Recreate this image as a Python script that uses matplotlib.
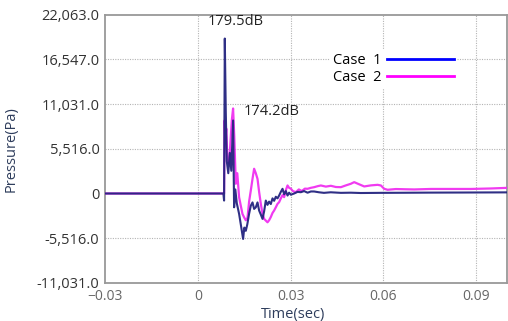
import matplotlib
matplotlib.use("Agg")
import matplotlib.pyplot as plt
from matplotlib.lines import Line2D
from matplotlib.ticker import FixedLocator

# ---- data ----
t1 = [-0.03, 0.00828, 0.00851, 0.00874, 0.00906, 0.00938, 0.00987, 0.01036, 0.01084,
      0.01142, 0.01175, 0.01214, 0.01262, 0.01336, 0.01391, 0.01466, 0.01505, 0.01553,
      0.01602, 0.01660, 0.01715, 0.01770, 0.01822, 0.01877, 0.01932, 0.01984, 0.02039,
      0.02094, 0.02146, 0.02200, 0.02255, 0.02307, 0.02362, 0.02417, 0.02469, 0.02524,
      0.02579, 0.02631, 0.02686, 0.02741, 0.02793, 0.02848, 0.02903, 0.02954, 0.03009,
      0.03116, 0.03226, 0.03333, 0.0344, 0.0355, 0.0366, 0.0376, 0.0392, 0.0408,
      0.043, 0.0463, 0.0495, 0.0527, 0.0592, 0.0657, 0.0754, 0.0851, 0.1003]
p1 = [0, 0, -870, 19100, 10000, 4000, 2500, 5000, 2800,
      9000, -1700, 500, -1200, -2500, -3800, -5600, -4200, -4600,
      -3800, -2500, -1500, -1100, -1900, -1700, -1100, -2100, -2600,
      -3130, -2200, -870, -1400, -1000, -1300, -600, -900, -400,
      -600, -250, 200, 580, -100, 300, -250, 100, -150,
      0, 200, 160, 300, 100, 250, 250, 150, 80,
      150, 80, 100, 60, 80, 90, 110, 120, 140]

t2 = [-0.03, 0.00851, 0.00867, 0.0089, 0.00922, 0.00955, 0.01013, 0.01052, 0.011,
      0.01142, 0.01181, 0.0123, 0.01278, 0.01336, 0.01391, 0.01446, 0.01498, 0.01553,
      0.01608, 0.0166, 0.01715, 0.0177, 0.01822, 0.01877, 0.01932, 0.01984, 0.02039,
      0.02094, 0.02146, 0.022, 0.02255, 0.02307, 0.02362, 0.02417, 0.02469, 0.02524,
      0.02579, 0.02631, 0.02686, 0.02741, 0.02793, 0.02848, 0.02903, 0.02954, 0.03009,
      0.03074, 0.03171, 0.03268, 0.03365, 0.03463, 0.0355, 0.03657, 0.03764, 0.03874,
      0.0398, 0.04142, 0.04304, 0.04466, 0.04628, 0.0479, 0.04951, 0.05058, 0.0521,
      0.05383, 0.05598, 0.05815, 0.05922, 0.06029, 0.06139, 0.06407, 0.06731, 0.07,
      0.0754, 0.0819, 0.0883, 0.0948, 0.1003]
p2 = [0, 0, 9000, 6500, 8000, 4500, 3670, 6000, 9000,
      10480, 7000, 1200, 2500, -450, -1500, -2520, -2930, -3300,
      -3000, -1000, 370, 1800, 3050, 2500, 1800, 200, -1280,
      -2500, -3130, -3340, -3550, -3300, -2900, -2400, -2100, -1700,
      -1280, -1070, -600, -200, -450, 400, 990, 700, 600,
      300, 160, 500, 300, 600, 580, 700, 780, 900,
      990, 850, 950, 800, 780, 1000, 1200, 1400, 1150,
      870, 1000, 1070, 990, 580, 460, 550, 520, 500,
      560, 560, 560, 620, 700]

yticks = [-11031.0, -5516.0, 0, 5516.0, 11031.0, 16547.0, 22063.0]
ytick_labels = ["-11,031.0", "-5,516.0", "0", "5,516.0", "11,031.0", "16,547.0", "22,063.0"]
xticks = [-0.03, 0, 0.03, 0.06, 0.09]
xtick_labels = ["\u22120.03", "0", "0.03", "0.06", "0.09"]
peak_labels = ["179.5dB", "174.2dB"]

plt.rcParams["font.family"] = ["Open Sans", "DejaVu Sans"]

fig = plt.figure(figsize=(5.08, 3.21), dpi=100)
ax = fig.add_axes([105 / 508, 1 - 283 / 321, 402 / 508, 268.5 / 321])

ax.plot(t2, p2, color="#f030f0", linewidth=1.6, alpha=0.95, zorder=3)
ax.plot(t1, p1, color="#24247f", linewidth=1.5, alpha=0.95, zorder=4)

ax.set_xlim(-0.03, 0.1)
ax.set_ylim(-11031.0, 22063.0)
ax.yaxis.set_major_locator(FixedLocator(yticks))
ax.set_yticklabels(ytick_labels, fontsize=10.5, color="#333333")
ax.xaxis.set_major_locator(FixedLocator(xticks))
ax.set_xticklabels(xtick_labels, fontsize=10, color="#666666")
ax.tick_params(length=0, pad=4)

# dotted grid, skip the lines that sit on the frame
for x in xticks[1:]:
    ax.axvline(x, color="#b4b4b4", linestyle=(0, (1, 1.2)), linewidth=0.8, zorder=1)
for y in yticks:
    if y not in (yticks[0], yticks[-1], 0):
        ax.axhline(y, color="#b4b4b4", linestyle=(0, (1, 1.2)), linewidth=0.8, zorder=1)

for s in ax.spines.values():
    s.set_color("#999999")
    s.set_linewidth(1.3)

ax.set_ylabel("Pressure(Pa)", fontsize=10.5, color="#2e3d5c")
ax.yaxis.set_label_coords(-0.215, 0.5)
ax.set_xlabel("Time(sec)", fontsize=10.5, color="#2e3d5c")
ax.xaxis.set_label_coords(0.468, -0.09)

# peak annotations
i1 = p1.index(max(p1))
i2 = p2.index(max(p2))
ax.annotate(peak_labels[0], (t1[i1], p1[i1]), xytext=(11, 17), textcoords="offset pixels",
            ha="center", va="center", fontsize=10.5, color="#222222")
ax.annotate(peak_labels[1], (t2[i2], p2[i2]), xytext=(39, -3), textcoords="offset pixels",
            ha="center", va="center", fontsize=10.5, color="#222222")

handles = [Line2D([], [], color="#0000ff", linewidth=2),
           Line2D([], [], color="#ff00ff", linewidth=2)]
leg = ax.legend(handles, ["Case  1", "Case  2"], loc="upper left",
                bbox_to_anchor=(225 / 402, 1 - 36 / 268.5), markerfirst=False,
                frameon=True, facecolor="white", edgecolor="none", framealpha=1,
                fontsize=10.5, handlelength=4.6, handletextpad=0.4,
                labelspacing=0.1, borderpad=0.2, borderaxespad=0)
leg.set_zorder(5)

fig.savefig("out.png", dpi=100)
